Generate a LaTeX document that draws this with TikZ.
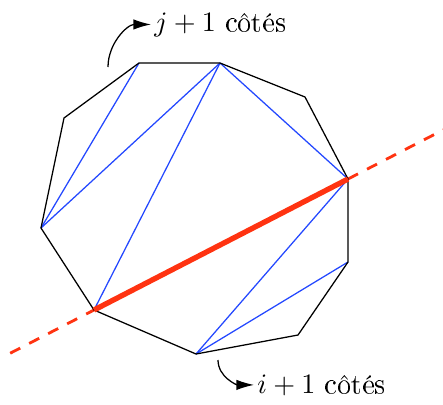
\documentclass[tikz,border=0pt]{standalone}
\usepackage[T1]{fontenc}
\usetikzlibrary{arrows.meta, calc}
\definecolor{cdiag}{HTML}{2448FF}
\definecolor{ccut}{HTML}{FF3311}
\tikzset{
  side/.style={draw=black, line width=0.45pt, line join=round},
  diag/.style={draw=cdiag, line width=0.45pt},
  cut/.style={draw=ccut, line width=1.9pt},
  cutline/.style={draw=ccut, line width=1pt, dash pattern=on 4pt off 3.6pt},
  pointer/.style={-{Latex[length=2.2mm, width=1.3mm]}, line width=0.45pt},
  lbl/.style={anchor=base west, inner sep=1pt},
}
\begin{document}
\begin{tikzpicture}[x=0.0125cm, y=-0.0125cm]
  \useasboundingbox (0,0) rectangle (443,404);
  % vertices of the polygon
  \coordinate (a) at (139,63);
  \coordinate (b) at (220,63);
  \coordinate (c) at (305,97);
  \coordinate (d) at (348,179);
  \coordinate (e) at (348,262);
  \coordinate (f) at (298,335);
  \coordinate (g) at (196,354);
  \coordinate (h) at (94,310);
  \coordinate (i) at (41,228);
  \coordinate (j) at (64,118);
  % the cutting line
  \draw[cutline] ($(h)!-0.33!(d)$) -- (h);
  \draw[cutline] (d) -- ($(h)!1.375!(d)$);
  % diagonals
  \draw[diag] (a) -- (i);
  \draw[diag] (b) -- (i);
  \draw[diag] (b) -- (h);
  \draw[diag] (b) -- (d);
  \draw[diag] (g) -- (d);
  \draw[diag] (g) -- (e);
  \draw[side] (a) -- (b) -- (c) -- (d) -- (e) -- (f) -- (g) -- (h) -- (i) -- (j) -- cycle;
  \draw[cut] (h) -- (d);
  % labels
  \node[lbl] (top) at (151,31) {$j+1$ côtés};
  \node[lbl] (bot) at (254,393) {$i+1$ côtés};
  \coordinate (topfoot) at (108,67);
  \coordinate (botfoot) at (218,360);
  \draw[pointer] (topfoot) to[out=90, in=180] (top.west);
  \draw[pointer] (botfoot) to[out=-90, in=180] (bot.west);
\end{tikzpicture}
\end{document}
